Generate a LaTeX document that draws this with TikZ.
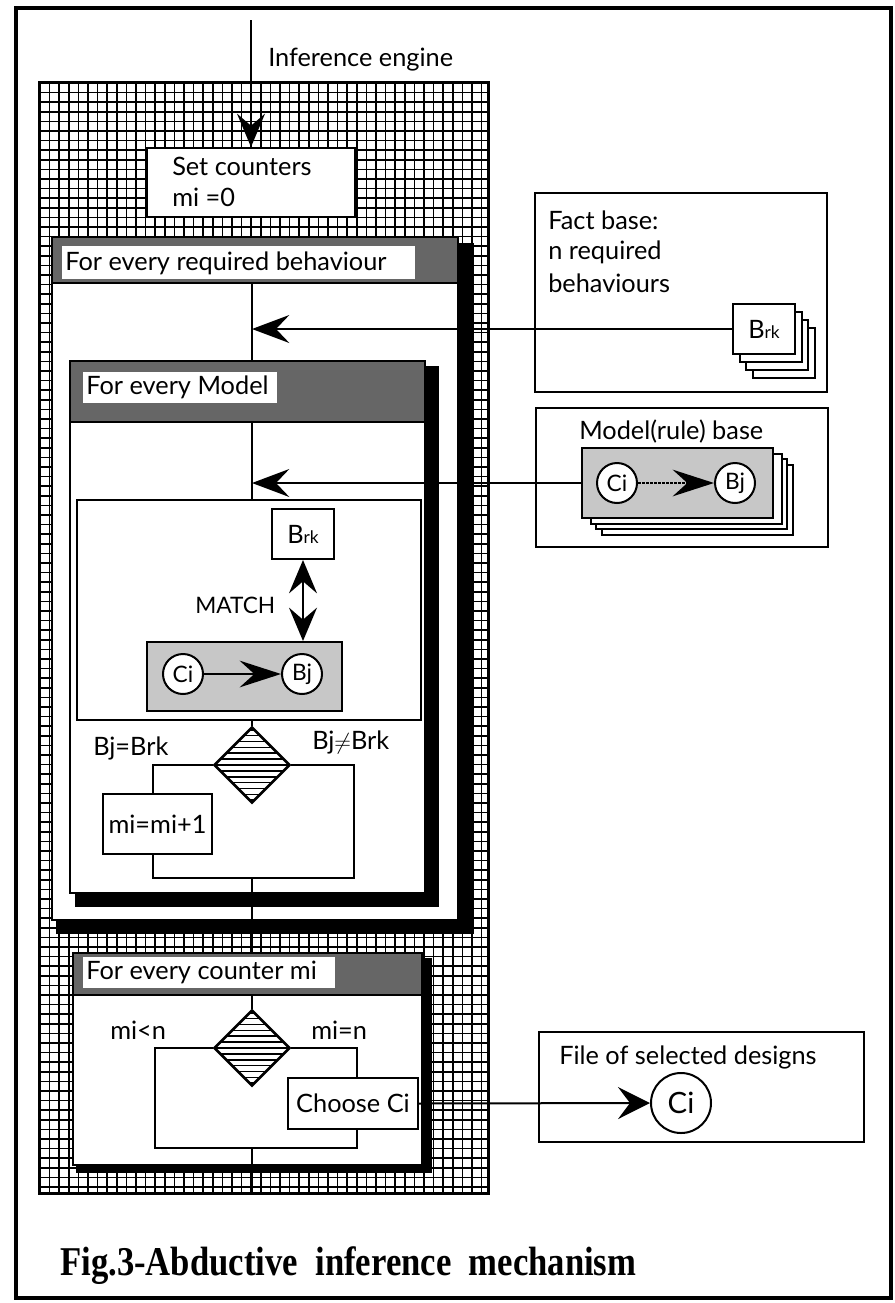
\documentclass[tikz,border=0pt]{standalone}
\usepackage{fontspec}
\setmainfont{Lato}
\newfontfamily\capfont{Liberation Serif}
\usetikzlibrary{arrows.meta,shapes.geometric,fit,calc}
\begin{document}
\begin{tikzpicture}[x=0.75pt,y=-0.75pt,
  ln/.style={line width=1.5pt},
  gridln/.style={line width=1.25pt},
  box/.style={draw, line width=1.5pt, fill=white, inner sep=0pt},
  head/.style={draw, line width=1.5pt, fill=black!60, inner sep=0pt},
  lab/.style={fill=white, inner sep=0pt},
  shadowbox/.style={fill=black, inner sep=0pt},
  crd/.style={draw, line width=1.5pt, fill=white, inner sep=0pt},
  stip/.style={draw, line width=1.5pt, fill=black!22, inner sep=0pt},
  txt/.style={inner sep=0pt, anchor=west, font=\fontsize{19}{23}\selectfont},
  ctxt/.style={inner sep=0pt, font=\fontsize{19}{23}\selectfont},
  circ/.style={circle, draw, line width=1.5pt, fill=white, inner sep=0pt, minimum size=30pt, font=\fontsize{17}{17}\selectfont},
  dia/.style={diamond, draw, line width=2pt, fill=white, inner sep=0pt, aspect=1,
    minimum width=57pt, minimum height=57pt,
    path picture={\foreach \k in {-9,...,9}{\draw[line width=1.2pt] ([yshift=\k*4.4pt]path picture bounding box.west) -- ([yshift=\k*4.4pt]path picture bounding box.east);}}},
  bigarr/.style={-{Stealth[length=25pt,width=21pt,inset=9pt]}},
  midarr/.style={-{Stealth[length=28pt,width=21pt,inset=10pt]}},
  bothway/.style={{Stealth[length=25pt,width=21pt,inset=9pt]}-{Stealth[length=25pt,width=21pt,inset=9pt]}},
  thinarr/.style={-{Stealth[length=31pt,width=20pt,inset=11pt]}},
  filearr/.style={-{Stealth[length=24pt,width=24pt,inset=9pt]}},
]
\useasboundingbox (0,0) rectangle (895,1303);

% outer frame
\node[fit={(16,8) (891,1298)}, draw, line width=3pt, inner sep=0pt] (frame) {};

% grid area
\node[fit={(40,83) (488,1193)}, fill=white, inner sep=0pt] (gridarea) {};
\foreach \gx in {40,49.6,...,488} \draw[gridln] (\gx,83) -- (\gx,1193);
\foreach \gy in {83,92.6,...,1193} \draw[gridln] (40,\gy) -- (488,\gy);
\draw[line width=2.5pt] (gridarea.north west) rectangle (gridarea.south east);

\coordinate (spine) at (252,0);
\coordinate (ietop) at (251,20);

% Inference engine
\node[txt] (ie) at (268,60) {Inference engine};
\node[box, fit={(147,148) (355,217)}] (setc) {};
\node[txt] (setc1) at (172,166) {Set counters};
\node[txt] (setc2) at (172,197) {mi =0};

% For every required behaviour
\node[shadowbox, fit={(56,243) (474,934)}] (frbsh) {};
\node[box, fit={(52,237) (458,920)}] (frb) {};
\node[head, fit={(52,237) (458,283)}] (frbhead) {};
\node[lab, fit={(62,246) (415,279)}] (frblab) {};
\node[txt] (frbtxt) at (65,263) {For every required behaviour};

% For every Model
\node[shadowbox, fit={(75,366) (439,907)}] (femsh) {};
\node[box, fit={(70,361) (425,893)}] (fem) {};
\node[head, fit={(70,361) (425,422)}] (femhead) {};
\node[lab, fit={(83,372) (277,403)}] (femlab) {};
\node[txt] (femtxt) at (86,387) {For every Model};

% MATCH box
\node[box, fit={(77,500) (421,720)}] (match) {};
\node[box, fit={(272,509) (334,559)}] (mbrk) {};
\node[ctxt] (mbrkt) at (mbrk.center) {B{\fontsize{13}{13}\selectfont rk}};
\node[inner sep=0pt, anchor=west, font=\fontsize{17}{17}\selectfont] (matcht) at (195,605) {MATCH};
\node[stip, fit={(147,642) (342,711)}] (gbox) {};
\node[circ] (ci1) at (183,674) {Ci};
\node[circ] (bj1) at (302,674) {Bj};

% decision 1
\node[dia] (dia1) at (252,765) {};
\node[txt] (l1) at (93,748) {Bj=Brk};
\node[txt] (l2) at (312,742) {Bj$\neq$Brk};
\node[box, fit={(103,794) (212,854)}] (inc) {};
\node[ctxt] (inct) at (inc.center) {mi=mi+1};
\coordinate (bl1) at (153,765);
\coordinate (bb1) at (153,878);
\coordinate (br1) at (354,878);

% For every counter mi
\node[shadowbox, fit={(76,958) (432,1173)}] (fcmsh) {};
\node[box, fit={(73,953) (422,1165)}] (fcm) {};
\node[head, fit={(73,953) (422,995)}] (fcmhead) {};
\node[lab, fit={(83,957) (335,988)}] (fcmlab) {};
\node[txt] (fcmtxt) at (86,972) {For every counter mi};
\node[dia] (dia2) at (252,1048) {};
\node[txt] (l3) at (110,1030) {mi<n};
\node[txt] (l4) at (311,1030) {mi=n};
\node[box, fit={(288,1078) (418,1129)}] (choose) {};
\node[ctxt] (chooset) at (choose.center) {Choose Ci};
\coordinate (bl2) at (155,1048);
\coordinate (bb2) at (155,1148);
\coordinate (br2) at (357,1148);

% Fact base
\node[box, fit={(535,193) (827,392)}] (fact) {};
\node[txt] (fb1) at (548,220) {Fact base:};
\node[txt] (fb2) at (548,252) {n required};
\node[txt] (fb3) at (548,283) {behaviours};
\node[crd, fit={(753,328) (815,378)}] (brkb3) {};
\node[crd, fit={(746,320) (808,370)}] (brkb2) {};
\node[crd, fit={(740,312) (802,362)}] (brkb1) {};
\node[crd, fit={(733,304) (795,354)}] (brk1) {};
\node[ctxt] (brk1t) at (brk1.center) {B{\fontsize{13}{13}\selectfont rk}};

% Model (rule) base
\node[box, fit={(536,408) (828,547)}] (model) {};
\node[txt] (modelt) at (579,432) {Model(rule) base};
\node[crd, fit={(602,465) (793,535)}] (ruleb3) {};
\node[crd, fit={(596,459) (787,529)}] (ruleb2) {};
\node[crd, fit={(591,454) (782,524)}] (ruleb1) {};
\node[stip, fit={(582,448) (773,518)}] (rule1) {};
\node[circ] (rci) at (617,483) {Ci};
\node[circ] (rbj) at (735,483) {Bj};

% File of selected designs
\node[box, fit={(539,1032) (864,1142)}] (file) {};
\node[txt] (filet) at (559,1057) {File of selected designs};
\node[circ, minimum size=45pt, font=\fontsize{22}{22}\selectfont] (fci) at (681,1103) {Ci};

% connectors
\draw[ln, bigarr] (ietop) -- (setc.north);
\draw[ln] (setc.south) -- (setc.south |- frb.north);
\draw[ln] (spine |- frbhead.south) -- (spine |- fem.north);
\draw[ln, midarr] (brk1.west) -- (spine |- brk1.west);
\draw[ln] (spine |- femhead.south) -- (spine |- match.north);
\draw[ln, midarr] (rule1.west) -- (spine |- rule1.west);
\draw[ln, bothway] (mbrk.south) -- (mbrk.south |- gbox.north);
\draw[ln, thinarr] (ci1) -- (bj1);
\draw[ln, thinarr, dash pattern=on 2pt off 1pt] (rci) -- (rbj);
\draw[ln] (spine |- match.south) -- (dia1.north);
\draw[ln] (dia1.west) -- (bl1) -- (bl1 |- inc.north);
\draw[ln] (bl1 |- inc.south) -- (bb1) -- (br1) -- (br1 |- dia1.east) -- (dia1.east);
\draw[ln] (spine |- bb1) -- (spine |- fcm.north);
\draw[ln] (spine |- fcmhead.south) -- (dia2.north);
\draw[ln] (dia2.west) -- (bl2) -- (bb2) -- (br2) -- (br2 |- choose.south);
\draw[ln] (dia2.east) -- (br2 |- dia2.east) -- (br2 |- choose.north);
\draw[ln] (spine |- bb2) -- (spine |- gridarea.south);
\draw[ln, filearr] (choose.east) -- (fci.west);

% caption
\node[anchor=west, inner sep=0pt, font=\capfont\bfseries\fontsize{26}{26}\selectfont] (cap) at (60,1266) {\scalebox{1}[1.18]{Fig.3-Abductive\ \ inference\ \ mechanism}};
\end{tikzpicture}
\end{document}
